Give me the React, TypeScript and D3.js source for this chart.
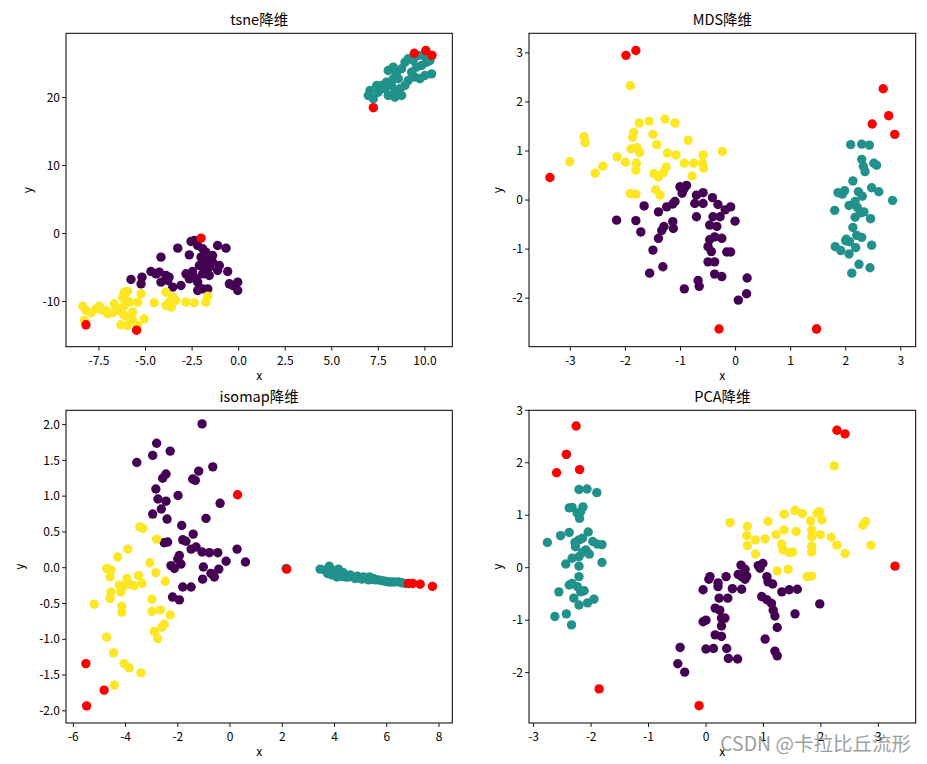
import React from 'react';
import * as d3 from 'd3';

type P = [number, number];

// ---------- tsne ----------
const tsnePurple: P[] = [
  [-2.56,-1.18],[-2.38,-1.03],[-2.2,-1.76],[-1.93,-2.25],[-1.76,-2.75],[-2.02,-3.48],[-1.58,-3.48],[-1.85,-4.22],
  [-1.4,-4.22],[-1.13,-1.76],[-0.68,-2.16],[-3.27,-2.16],[-4.17,-3.48],[-2.65,-3.14],[-2.11,-4.71],[-1.76,-4.95],
  [-1.04,-4.71],[-0.59,-5.59],[-1.13,-5.44],[-1.58,-6.18],[-1.93,-5.93],[-2.47,-5.59],[-2.83,-5.93],[-2.29,-6.57],
  [-2.65,-6.67],[-2.2,-7.16],[-3.9,-6.18],[-4.71,-5.59],[-4.44,-5.93],[-5.19,-6.42],[-5.78,-6.76],[-5.24,-7.4],
  [-4.17,-7.16],[-3.81,-6.91],[-3.54,-7.89],[-3.1,-7.65],[-2.2,-8.38],[-1.93,-8.14],[-1.66,-8.14],[-0.5,-7.4],
  [-0.05,-7.16],[-0.32,-7.65],[-0.05,-8.38],[-3.74,-6.42],[-4.26,-5.69],[-1.4,-3.24],[-1.58,-4.95]
];
const tsneTeal: P[] = [
  [7.05,21.03],[6.96,20.29],[7.23,19.81],[7.49,20.78],[7.68,21.76],[7.94,22.25],[8.03,23.97],[8.3,24.46],
  [8.48,23.72],[8.75,24.22],[8.93,25.19],[9.1,25.69],[9.37,25.44],[9.55,24.46],[9.82,24.71],[10.09,25.19],
  [10.27,25.44],[10.36,23.48],[10.0,23.24],[9.73,22.75],[9.46,22.99],[9.1,22.5],[8.93,21.76],[8.66,21.28],
  [8.39,21.03],[8.21,21.76],[8.03,20.29],[8.39,20.04],[8.75,20.29],[7.85,21.28],[7.41,21.76],[8.57,22.75],
  [9.29,23.72],[9.91,26.18],[9.64,26.18],[8.3,22.75]
];
const tsneYellow: P[] = [
  [-6.14,-8.63],[-5.96,-8.53],[-5.24,-8.87],[-6.23,-9.37],[-6.05,-9.85],[-5.87,-10.1],[-5.42,-10.1],[-4.53,-10.19],
  [-3.9,-8.63],[-3.54,-9.37],[-3.37,-9.85],[-3.9,-10.59],[-3.62,-10.84],[-2.83,-10.1],[-2.38,-10.19],[-1.76,-10.1],
  [-1.66,-9.22],[-8.37,-10.69],[-8.2,-11.32],[-7.93,-11.66],[-7.48,-10.69],[-7.3,-11.32],[-7.03,-11.81],[-6.68,-10.34],
  [-6.59,-10.98],[-6.32,-11.47],[-6.14,-12.06],[-5.87,-12.45],[-5.69,-12.79],[-6.32,-13.43],[-5.96,-13.53],[-5.42,-13.53],
  [-5.07,-12.55],[-8.29,-12.79],[-7.12,-11.32],[-6.76,-11.66],[-6.14,-10.59],[-7.66,-11.07],[-5.69,-11.57],[-3.74,-10.1]
];
const tsneOutliers: P[] = [[-2.02,-0.69],[-8.2,-13.43],[-5.48,-14.22],[9.43,26.5],[10.05,26.9],[10.38,26.2],[7.23,18.5]];

// ---------- MDS ----------
const mdsPurple: P[] = [
  [-1.01,0.27],[-0.94,0.22],[-0.89,0.3],[-0.97,0.14],[-0.71,0.1],[-0.59,0.15],[-0.74,-0.07],[-0.59,-0.07],
  [-0.42,0.05],[-0.32,-0.09],[-0.19,-0.2],[-0.09,-0.14],[-0.01,-0.43],[-0.28,-0.34],[-0.41,-0.34],[-0.71,-0.34],
  [-0.47,-0.51],[-0.34,-0.54],[-0.38,-0.75],[-0.25,-0.78],[-0.47,-0.81],[-0.5,-0.95],[-0.44,-1.05],[-0.16,-1.06],
  [-0.09,-1.06],[-0.5,-1.26],[-0.38,-1.26],[-0.38,-1.51],[-0.25,-1.56],[0.21,-1.59],[0.2,-1.91],[0.05,-2.04],
  [-0.68,-1.64],[-0.66,-1.76],[-0.93,-1.81],[-1.32,-1.36],[-1.56,-1.49],[-1.5,-1.02],[-1.4,-0.78],[-1.34,-0.62],
  [-1.3,-0.54],[-1.14,-0.44],[-1.13,-0.58],[-1.25,-0.14],[-1.14,-0.08],[-1.1,-0.03],[-1.4,-0.24],[-1.66,-0.12],
  [-2.16,-0.41],[-1.81,-0.42],[-1.72,-0.65]
];
const mdsTeal: P[] = [
  [2.09,1.13],[2.29,1.14],[2.43,1.12],[2.29,0.83],[2.32,0.69],[2.51,0.75],[2.56,0.71],[2.35,0.58],
  [2.13,0.39],[1.86,0.15],[1.98,0.19],[1.94,0.12],[2.23,0.17],[2.3,0.08],[2.47,0.25],[2.6,0.17],
  [2.85,-0.01],[1.8,-0.21],[2.06,-0.11],[2.17,-0.03],[2.21,-0.15],[2.27,-0.26],[2.33,-0.24],[2.17,-0.35],
  [2.45,-0.38],[2.13,-0.56],[2.2,-0.72],[2.29,-0.76],[2.01,-0.8],[2.0,-0.83],[2.07,-0.85],[1.81,-0.95],
  [1.91,-1.03],[2.06,-1.1],[2.18,-0.97],[2.47,-0.92],[2.24,-1.31],[2.44,-1.38],[2.11,-1.49],[1.47,-2.63]
];
const mdsYellow: P[] = [
  [-1.91,2.33],[-1.75,1.57],[-1.57,1.61],[-1.28,1.65],[-1.1,1.57],[-1.85,1.38],[-1.87,1.28],[-1.5,1.34],
  [-1.43,1.13],[-0.86,1.22],[-0.24,0.99],[-2.75,1.29],[-2.73,1.17],[-3.01,0.78],[-2.55,0.55],[-2.41,0.69],
  [-2.15,0.88],[-2.0,0.77],[-1.9,1.04],[-1.79,1.07],[-1.74,0.97],[-1.8,0.75],[-1.81,0.61],[-1.24,0.96],
  [-1.08,0.92],[-0.93,0.75],[-0.76,0.75],[-0.59,0.92],[-0.6,0.75],[-0.58,0.65],[-1.26,0.67],[-1.31,0.56],
  [-1.48,0.54],[-1.4,0.47],[-0.79,0.49],[-1.91,0.13],[-1.81,0.12],[-1.45,0.21],[-1.37,0.1]
];
const mdsOutliers: P[] = [[-1.99,2.95],[-1.81,3.05],[-3.37,0.46],[-0.3,-2.63],[1.47,-2.63],[2.68,2.27],[2.78,1.72],[2.48,1.55],[2.89,1.34]];

// ---------- isomap ----------
const isoPurple: P[] = [
  [-1.07,2.01],[-2.81,1.74],[-2.96,1.57],[-2.29,1.63],[-3.57,1.47],[-2.45,1.31],[-2.58,1.25],[-2.84,1.1],
  [-2.76,0.96],[-2.45,0.93],[-1.99,1.01],[-2.63,0.82],[-2.96,0.75],[-2.41,0.68],[-1.43,1.24],[-1.33,1.22],
  [-1.2,1.35],[-0.66,1.41],[-0.38,0.9],[-0.92,0.69],[-1.85,0.59],[-1.41,0.47],[-2.52,0.35],[-2.39,0.36],
  [-1.81,0.39],[-1.69,0.37],[-1.49,0.26],[-1.3,0.29],[-1.07,0.22],[-0.79,0.21],[-0.47,0.21],[0.27,0.26],
  [-0.15,0.09],[0.59,0.08],[-1.94,0.17],[-2.0,0.12],[-2.26,0.03],[-2.13,-0.01],[-1.88,0.05],[-1.81,-0.27],
  [-1.49,-0.27],[-2.2,-0.41],[-1.94,-0.45],[-1.02,0.01],[-0.73,-0.08],[-0.6,-0.13],[-0.43,-0.02],[-1.05,-0.16]
];
const isoTeal: P[] = [
  [3.45,-0.02],[3.64,-0.03],[3.8,0.02],[3.83,-0.06],[4.02,-0.08],[4.15,-0.02],[4.21,-0.1],[4.34,-0.07],
  [4.44,-0.13],[4.6,-0.1],[4.72,-0.13],[4.88,-0.12],[4.98,-0.15],[5.11,-0.13],[5.24,-0.15],[5.34,-0.13],
  [5.43,-0.16],[5.56,-0.17],[5.68,-0.17],[5.81,-0.18],[5.94,-0.19],[6.07,-0.2],[6.16,-0.2],[6.28,-0.2],
  [6.45,-0.2],[6.58,-0.21],[6.7,-0.22],[3.96,-0.04],[4.28,-0.12],[4.53,-0.13],[4.79,-0.15],[5.05,-0.16],
  [5.3,-0.17],[5.49,-0.15],[3.73,-0.08],[3.9,-0.1],[4.09,-0.13],[2.15,-0.01]
];
const isoYellow: P[] = [
  [-3.45,0.57],[-3.34,0.55],[-2.81,0.4],[-3.91,0.26],[-4.3,0.15],[-3.07,0.07],[-4.72,-0.01],[-4.56,-0.03],
  [-4.59,-0.13],[-2.84,-0.07],[-2.48,-0.19],[-3.95,-0.15],[-3.5,-0.11],[-4.24,-0.24],[-4.05,-0.25],[-3.86,-0.23],
  [-3.67,-0.25],[-3.37,-0.22],[-4.56,-0.34],[-4.18,-0.34],[-4.59,-0.43],[-5.2,-0.51],[-2.99,-0.44],[-4.15,-0.54],
  [-4.14,-0.62],[-2.99,-0.61],[-2.67,-0.59],[-2.29,-0.66],[-2.52,-0.79],[-2.61,-0.83],[-2.9,-0.89],[-2.77,-0.99],
  [-4.72,-0.97],[-4.46,-1.19],[-4.05,-1.34],[-3.86,-1.4],[-3.41,-1.47],[-4.43,-1.64]
];
const isoOutliers: P[] = [[0.29,1.02],[-5.52,-1.34],[-4.82,-1.71],[-5.49,-1.93],[2.17,-0.02],[6.83,-0.22],[7.0,-0.22],[7.28,-0.23],[7.75,-0.26]];

// ---------- PCA ----------
const pcaPurple: P[] = [
  [0.61,0.05],[0.68,-0.03],[0.91,0.04],[0.99,0.08],[0.94,-0.01],[0.07,-0.17],[0.05,-0.22],[0.21,-0.29],
  [0.35,-0.17],[0.56,-0.13],[0.62,-0.17],[0.71,-0.16],[0.68,-0.22],[1.06,-0.17],[1.08,-0.27],[1.16,-0.31],
  [0.21,-0.36],[-0.05,-0.42],[0.46,-0.4],[0.62,-0.41],[0.23,-0.58],[0.38,-0.58],[0.97,-0.55],[1.06,-0.61],
  [1.14,-0.68],[1.32,-0.46],[1.45,-0.42],[1.59,-0.41],[1.98,-0.69],[0.16,-0.77],[0.24,-0.81],[0.27,-0.96],
  [0.33,-0.96],[-0.05,-1.03],[0.0,-1.0],[0.27,-1.11],[1.17,-0.81],[1.2,-0.92],[1.55,-0.88],[1.24,-1.14],
  [0.16,-1.28],[0.27,-1.31],[1.03,-1.36],[-0.45,-1.52],[0.0,-1.55],[0.13,-1.54],[0.36,-1.54],[0.39,-1.73],
  [0.55,-1.74],[-0.49,-1.83],[-0.37,-1.99],[1.2,-1.59],[1.24,-1.68]
];
const pcaTeal: P[] = [
  [-2.21,1.49],[-2.07,1.5],[-1.9,1.43],[-2.38,1.14],[-2.33,1.15],[-2.14,1.16],[-2.24,1.04],[-2.2,0.94],
  [-2.18,1.07],[-2.53,0.61],[-2.38,0.67],[-2.05,0.68],[-2.76,0.48],[-2.28,0.48],[-2.21,0.53],[-2.15,0.56],
  [-2.27,0.4],[-1.97,0.5],[-1.89,0.45],[-1.81,0.44],[-2.09,0.34],[-2.03,0.26],[-2.15,0.29],[-2.21,0.21],
  [-2.33,0.18],[-2.44,0.07],[-2.21,0.03],[-1.81,0.1],[-2.21,-0.17],[-2.38,-0.33],[-2.33,-0.3],[-2.24,-0.36],
  [-2.18,-0.46],[-2.12,-0.44],[-2.56,-0.46],[-2.3,-0.58],[-2.21,-0.71],[-2.06,-0.67],[-1.95,-0.6],[-2.63,-0.93],
  [-2.43,-0.88],[-2.34,-1.09],[-2.43,2.16]
];
const pcaYellow: P[] = [
  [2.23,1.94],[0.42,0.86],[0.72,0.79],[1.08,0.88],[1.36,1.02],[1.55,1.09],[1.68,1.03],[1.93,1.04],
  [1.98,1.07],[1.82,0.89],[2.02,0.91],[0.71,0.61],[0.86,0.53],[1.03,0.55],[1.22,0.63],[1.36,0.72],
  [1.57,0.69],[1.84,0.72],[1.84,0.59],[1.99,0.63],[2.18,0.58],[0.72,0.42],[0.86,0.26],[1.32,0.45],
  [1.34,0.34],[1.45,0.29],[1.51,0.3],[1.84,0.41],[1.84,0.3],[2.28,0.43],[2.42,0.27],[2.73,0.81],
  [2.78,0.88],[2.87,0.43],[1.24,-0.06],[1.43,-0.03],[1.76,-0.17],[1.84,-0.16],[2.28,2.62]
];
const pcaOutliers: P[] = [[-2.26,2.7],[-2.43,2.16],[-2.6,1.81],[-2.2,1.87],[-1.86,-2.31],[2.28,2.62],[2.42,2.55],[3.29,0.03],[-0.12,-2.63]];

// ---------- ticks ----------
const tsneXTicks = [-7.5, -5.0, -2.5, 0.0, 2.5, 5.0, 7.5, 10.0];
const tsneYTicks = [-10, 0, 10, 20];
const mdsXTicks = [-3, -2, -1, 0, 1, 2, 3];
const mdsYTicks = [-2, -1, 0, 1, 2, 3];
const isoXTicks = [-6, -4, -2, 0, 2, 4, 6, 8];
const isoYTicks = [-2.0, -1.5, -1.0, -0.5, 0.0, 0.5, 1.0, 1.5, 2.0];
const pcaXTicks = [-3, -2, -1, 0, 1, 2, 3];
const pcaYTicks = [-2, -1, 0, 1, 2, 3];

const titles = ['tsne降维', 'MDS降维', 'isomap降维', 'PCA降维'];
const watermark = 'CSDN @卡拉比丘流形';

const COLORS = { purple: '#440154', teal: '#21918c', yellow: '#fde725', red: '#ff0000' };
const FONT = '"Noto Sans CJK SC", "DejaVu Sans", sans-serif';

const fmt = (spec: string) => {
  const f = d3.format(spec);
  return (v: number) => f(v).replace('\u2212', '-');
};

interface Panel {
  title: string;
  box: { l: number; t: number; r: number; b: number };
  xDomain: [number, number];
  yDomain: [number, number];
  xTicks: number[];
  yTicks: number[];
  xFmt: (v: number) => string;
  yFmt: (v: number) => string;
  groups: { pts: P[]; color: string }[];
  yLabelX: number;
}

const panels: Panel[] = [
  {
    title: titles[0], box: { l: 66, t: 33.3, r: 452.3, b: 346.7 },
    xDomain: [-9.27, 11.47], yDomain: [-16.65, 29.44],
    xTicks: tsneXTicks, yTicks: tsneYTicks, xFmt: fmt('.1f'), yFmt: fmt('d'),
    groups: [
      { pts: tsnePurple, color: COLORS.purple },
      { pts: tsneTeal, color: COLORS.teal },
      { pts: tsneYellow, color: COLORS.yellow },
      { pts: tsneOutliers, color: COLORS.red },
    ],
    yLabelX: 28,
  },
  {
    title: titles[1], box: { l: 529, t: 33.3, r: 915.7, b: 346.7 },
    xDomain: [-3.75, 3.27], yDomain: [-2.99, 3.4],
    xTicks: mdsXTicks, yTicks: mdsYTicks, xFmt: fmt('d'), yFmt: fmt('d'),
    groups: [
      { pts: mdsPurple, color: COLORS.purple },
      { pts: mdsTeal, color: COLORS.teal },
      { pts: mdsYellow, color: COLORS.yellow },
      { pts: mdsOutliers, color: COLORS.red },
    ],
    yLabelX: 498,
  },
  {
    title: titles[2], box: { l: 66, t: 410.3, r: 452.3, b: 723 },
    xDomain: [-6.28, 8.51], yDomain: [-2.17, 2.2],
    xTicks: isoXTicks, yTicks: isoYTicks, xFmt: fmt('d'), yFmt: fmt('.1f'),
    groups: [
      { pts: isoPurple, color: COLORS.purple },
      { pts: isoTeal, color: COLORS.teal },
      { pts: isoYellow, color: COLORS.yellow },
      { pts: isoOutliers, color: COLORS.red },
    ],
    yLabelX: 20,
  },
  {
    title: titles[3], box: { l: 529, t: 410.3, r: 915.7, b: 723 },
    xDomain: [-3.08, 3.65], yDomain: [-2.96, 3.0],
    xTicks: pcaXTicks, yTicks: pcaYTicks, xFmt: fmt('d'), yFmt: fmt('d'),
    groups: [
      { pts: pcaPurple, color: COLORS.purple },
      { pts: pcaTeal, color: COLORS.teal },
      { pts: pcaYellow, color: COLORS.yellow },
      { pts: pcaOutliers, color: COLORS.red },
    ],
    yLabelX: 498,
  },
];

function PanelView({ p, idx }: { p: Panel; idx: number }) {
  const { l, t, r, b } = p.box;
  const x = d3.scaleLinear().domain(p.xDomain).range([l, r]);
  const y = d3.scaleLinear().domain(p.yDomain).range([b, t]);
  const cx = (l + r) / 2;
  const cy = (t + b) / 2;
  const clipId = 'clip-panel-' + idx;
  return (
    <g>
      <defs>
        <clipPath id={clipId}>
          <rect x={l} y={t} width={r - l} height={b - t} />
        </clipPath>
      </defs>
      <g clipPath={`url(#${clipId})`}>
        {p.groups.map((g, gi) =>
          g.pts.map((d, i) => (
            <circle key={gi + '-' + i} cx={x(d[0])} cy={y(d[1])} r={4.7} fill={g.color} />
          ))
        )}
      </g>
      <rect x={l} y={t} width={r - l} height={b - t} fill="none" stroke="#000" strokeWidth={1} />
      {p.xTicks.map((v) => (
        <g key={'x' + v}>
          <line x1={x(v)} x2={x(v)} y1={b} y2={b + 4} stroke="#000" strokeWidth={0.9} />
          <text x={x(v)} y={b + 18} textAnchor="middle" fontSize={12} fontFamily={FONT} fill="#000">
            {p.xFmt(v)}
          </text>
        </g>
      ))}
      {p.yTicks.map((v) => (
        <g key={'y' + v}>
          <line x1={l - 4} x2={l} y1={y(v)} y2={y(v)} stroke="#000" strokeWidth={0.9} />
          <text x={l - 6} y={y(v)} dy="0.35em" textAnchor="end" fontSize={12} fontFamily={FONT} fill="#000">
            {p.yFmt(v)}
          </text>
        </g>
      ))}
      <text x={cx} y={t - 8} textAnchor="middle" fontSize={14.5} fontFamily={FONT} fill="#000">
        {p.title}
      </text>
      <text x={cx} y={b + 33} textAnchor="middle" fontSize={12} fontFamily={FONT} fill="#000">
        x
      </text>
      <text
        x={p.yLabelX}
        y={cy}
        textAnchor="middle"
        fontSize={12}
        fontFamily={FONT}
        fill="#000"
        transform={`rotate(-90 ${p.yLabelX} ${cy})`}
        dy="0.35em"
      >
        y
      </text>
    </g>
  );
}

export default function App() {
  return (
    <svg
      width={927}
      height={764}
      style={{ position: 'absolute', left: 0, top: 0, background: '#fff' }}
    >
      <rect x={0} y={0} width={927} height={764} fill="#fff" />
      {panels.map((p, i) => (
        <PanelView key={p.title} p={p} idx={i} />
      ))}
      <text x={911} y={751} textAnchor="end" fontSize={19.5} fontFamily={FONT} fill="#8c8c8c" fillOpacity={0.85}>
        {watermark}
      </text>
    </svg>
  );
}
